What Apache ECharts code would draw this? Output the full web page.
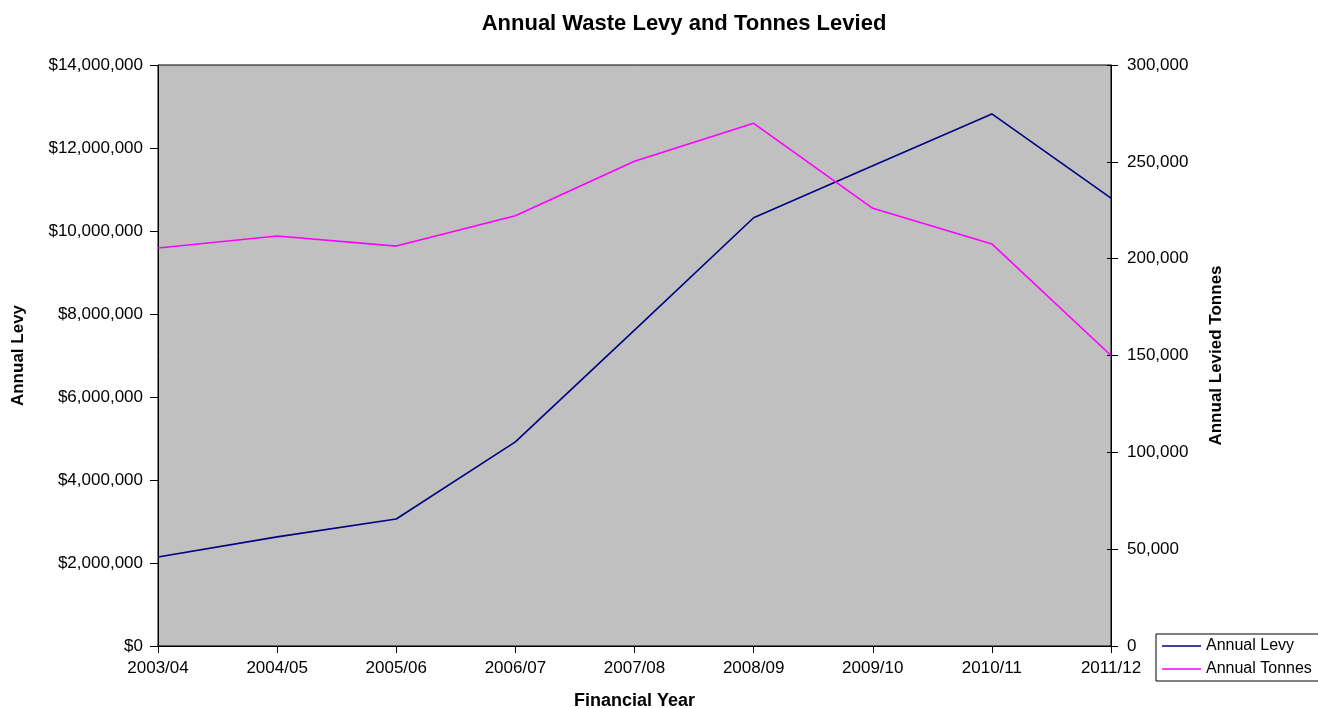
<!DOCTYPE html>
<html>
<head>
<meta charset="utf-8">
<script src="https://cdn.jsdelivr.net/npm/echarts@6/dist/echarts.min.js"></script>
<style>
  html, body { margin: 0; padding: 0; background: #fff; overflow: hidden; }
  #chart { width: 1318px; height: 708px; }
</style>
</head>
<body>
<div id="chart"></div>
<script>
// Financial years on the category axis
const years = ['2003/04', '2004/05', '2005/06', '2006/07', '2007/08', '2008/09', '2009/10', '2010/11', '2011/12'];
// Annual levy collected ($)
const annualLevy = [2145000, 2630000, 3060000, 4920000, 7610000, 10320000, 11570000, 12820000, 10790000];
// Annual tonnes levied
const annualTonnes = [205500, 211700, 206500, 222200, 250300, 269900, 226000, 207600, 150000];
// Axis tick values
const levyTicks = [0, 2000000, 4000000, 6000000, 8000000, 10000000, 12000000, 14000000];
const tonneTicks = [0, 50000, 100000, 150000, 200000, 250000, 300000];

const FONT = '"Liberation Sans", Arial, sans-serif';
const withCommas = v => String(v).replace(/\B(?=(\d{3})+(?!\d))/g, ',');

const chart = echarts.init(document.getElementById('chart'), null, { renderer: 'canvas' });

const tonneRange = {
  min: tonneTicks[0],
  max: tonneTicks[tonneTicks.length - 1],
  interval: tonneTicks[1] - tonneTicks[0]
};

chart.setOption({
  animation: false,
  backgroundColor: '#ffffff',
  textStyle: { fontFamily: FONT },
  title: {
    text: 'Annual Waste Levy and Tonnes Levied',
    left: 679,
    top: 8,
    textAlign: 'center',
    textStyle: { fontFamily: FONT, fontSize: 22, fontWeight: 'bold', color: '#000' }
  },
  grid: {
    left: 158, right: 207, top: 65, bottom: 62,
    outerBoundsMode: 'none',
    containLabel: false,
    show: true,
    backgroundColor: '#c0c0c0',
    borderColor: '#000',
    borderWidth: 1
  },
  legend: {
    orient: 'vertical',
    left: 1156,
    top: 634,
    padding: [4, 20, 4, 6],
    itemGap: 7,
    itemWidth: 39,
    itemHeight: 1.5,
    icon: 'rect',
    borderColor: '#000',
    borderWidth: 1,
    borderRadius: 0,
    backgroundColor: '#fff',
    textStyle: { fontFamily: FONT, fontSize: 16, color: '#000' },
    data: ['Annual Levy', 'Annual Tonnes']
  },
  xAxis: {
    type: 'category',
    data: years,
    boundaryGap: false,
    name: 'Financial Year',
    nameLocation: 'middle',
    nameGap: 46,
    nameTextStyle: { fontFamily: FONT, fontSize: 18, fontWeight: 'bold', color: '#000' },
    axisLine: { lineStyle: { color: '#000', width: 1 } },
    axisTick: { show: true, length: 7, lineStyle: { color: '#000' } },
    axisLabel: { fontFamily: FONT, fontSize: 17, color: '#000', margin: 14 },
    splitLine: { show: false }
  },
  yAxis: [
    {
      type: 'value',
      position: 'left',
      min: levyTicks[0],
      max: levyTicks[levyTicks.length - 1],
      interval: levyTicks[1] - levyTicks[0],
      name: 'Annual Levy',
      nameLocation: 'middle',
      nameGap: 131,
      nameRotate: 90,
      nameTextStyle: { fontFamily: FONT, fontSize: 17, fontWeight: 'bold', color: '#000' },
      axisLine: { show: true, lineStyle: { color: '#000', width: 1 } },
      axisTick: { show: true, length: 8, lineStyle: { color: '#000' } },
      axisLabel: {
        fontFamily: FONT, fontSize: 17, color: '#000', margin: 15,
        formatter: v => '$' + withCommas(v)
      },
      splitLine: { show: false }
    },
    {
      type: 'value',
      position: 'right',
      ...tonneRange,
      name: 'Annual Levied Tonnes',
      nameLocation: 'middle',
      nameGap: 97,
      nameRotate: 90,
      nameTextStyle: { fontFamily: FONT, fontSize: 17, fontWeight: 'bold', color: '#000' },
      axisLine: { show: true, lineStyle: { color: '#000', width: 1 } },
      axisTick: { show: true, length: 7, lineStyle: { color: '#000' } },
      axisLabel: {
        fontFamily: FONT, fontSize: 17, color: '#000', margin: 16,
        formatter: v => withCommas(v)
      },
      splitLine: { show: false }
    },
    {
      // inner half of the right axis's cross ticks
      type: 'value',
      position: 'right',
      ...tonneRange,
      axisLine: { show: false },
      axisTick: { show: true, inside: true, length: 4, lineStyle: { color: '#000' } },
      axisLabel: { show: false },
      splitLine: { show: false }
    }
  ],
  series: [
    {
      name: 'Annual Levy',
      type: 'line',
      yAxisIndex: 0,
      data: annualLevy,
      symbol: 'none',
      lineStyle: { color: '#000080', width: 1.6 },
      itemStyle: { color: '#000080' }
    },
    {
      name: 'Annual Tonnes',
      type: 'line',
      yAxisIndex: 1,
      data: annualTonnes,
      symbol: 'none',
      lineStyle: { color: '#ff00ff', width: 1.6 },
      itemStyle: { color: '#ff00ff' }
    }
  ]
});
</script>
</body>
</html>
